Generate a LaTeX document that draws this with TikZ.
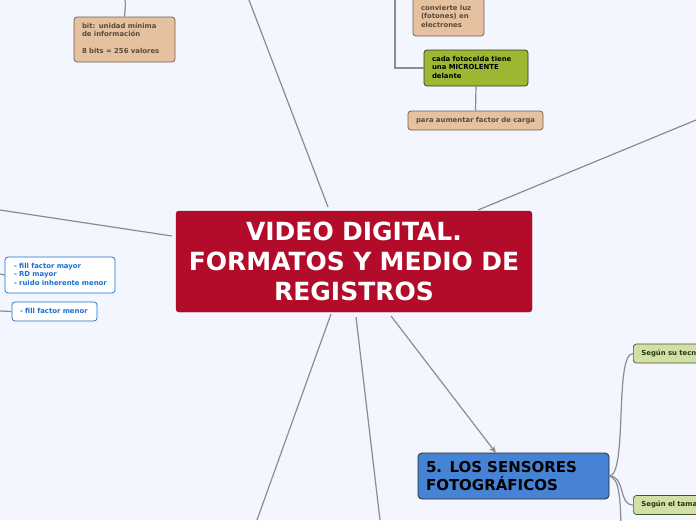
\documentclass[tikz,border=0pt]{standalone}
\usepackage{fontspec}
\setmainfont{DejaVu Sans}
\usetikzlibrary{arrows.meta}
\definecolor{bgc}{HTML}{F3F6FF}
\definecolor{redc}{HTML}{B30C2B}
\definecolor{tanc}{HTML}{E5C19F}
\definecolor{tanb}{HTML}{6E5E50}
\definecolor{tant}{HTML}{5A4A3C}
\definecolor{greenc}{HTML}{9EB733}
\definecolor{lgreenc}{HTML}{D4DFA8}
\definecolor{lgreenb}{HTML}{3E5A22}
\definecolor{lgreent}{HTML}{1F3A10}
\definecolor{bluec}{HTML}{4683D5}
\definecolor{blueb}{HTML}{1A6FD0}
\definecolor{linec}{HTML}{8A8C94}
\newcommand{\lns}[1]{\begin{tabular}{@{}l@{}}#1\end{tabular}}
\begin{document}
\begin{tikzpicture}[x=1pt,y=-1pt,
  conn/.style={draw=linec,line width=1.2pt},
  small/.style={font=\bfseries\fontsize{6.9}{8.5}\selectfont,align=left,rounded corners=3pt,line width=0.7pt,inner xsep=8pt,inner ysep=0pt},
  tanbox/.style={small,fill=tanc,draw=tanb,text=tant},
  greenbox/.style={small,fill=greenc,draw=black!80,text=black},
  lgreenbox/.style={small,fill=lgreenc,draw=lgreenb,text=lgreent},
  whitebox/.style={small,fill=white,draw=blueb,text=blueb},
  mainbox/.style={fill=redc,draw=redc!80!black,rounded corners=3pt,text=white,font=\bfseries\fontsize{25}{30}\selectfont,align=center,inner sep=0pt},
  sensorbox/.style={fill=bluec,draw=black!85,line width=0.8pt,rounded corners=4pt,text=black,font=\bfseries\fontsize{15}{18}\selectfont,align=left,inner xsep=8pt,inner ysep=0pt}
]
\useasboundingbox (0,0) rectangle (696,520);
\fill[bgc] (0,0) rectangle (696,520);
\clip (0,0) rectangle (696,520);

% nodes
\node[mainbox,minimum width=356pt,minimum height=101pt,text width=350pt] (main) at (354,261.5) {VIDEO DIGITAL.\\FORMATOS Y MEDIO DE\\REGISTROS};
\node[tanbox,minimum width=101pt,minimum height=45pt,text width=85pt] (bit) at (124.5,39.5) {\lns{bit: unidad mínima\\de información\\ \\8 bits = 256 valores}};
\node[tanbox,minimum width=71pt,minimum height=38pt,text width=55pt] (luz) at (448.5,17) {\lns{convierte luz\\(fotones) en\\electrones}};
\node[greenbox,minimum width=104pt,minimum height=36pt,text width=88pt] (micro) at (476,68) {\lns{cada fotocelda tiene\\una MICROLENTE\\delante}};
\node[tanbox,minimum width=135pt,minimum height=19pt,text width=119pt] (carga) at (475.5,120.5) {\lns{para aumentar factor de carga}};
\node[whitebox,minimum width=110pt,minimum height=36pt,text width=92pt,inner xsep=9pt] (mayor) at (60,275) {\lns{- fill factor mayor\\- RD mayor\\- ruido inherente menor}};
\node[whitebox,minimum width=85pt,minimum height=19pt,text width=69pt] (menor) at (54.5,311.5) {\lns{- fill factor menor}};
\node[sensorbox,minimum width=191pt,minimum height=46pt,text width=175pt] (sensor) at (513.5,476) {5. LOS SENSORES\\FOTOGRÁFICOS};
\node[lgreenbox,minimum width=100pt,minimum height=19pt,text width=84pt,anchor=west] (tecn) at (633,353.5) {\lns{Según su tecn}};
\node[lgreenbox,minimum width=100pt,minimum height=19pt,text width=84pt,anchor=west] (tama) at (633,505) {\lns{Según el tama}};

% coordinates
\coordinate (m1) at (328,207); \coordinate (e1) at (249,0);
\coordinate (m2) at (478,210); \coordinate (e2) at (696,120);
\coordinate (m3) at (172,236); \coordinate (e3) at (0,210);
\coordinate (m4) at (331,314); \coordinate (e4) at (257,520);
\coordinate (m5) at (356,317); \coordinate (e5) at (380,520);
\coordinate (m6) at (391,316); \coordinate (s6) at (496,453);
\coordinate (b0) at (125,0);
\coordinate (t0) at (395,0); \coordinate (t1) at (395,68);
\coordinate (l1) at (0,274); \coordinate (l2) at (0,311);
\coordinate (sr) at (609,476); \coordinate (d0) at (621,540);

% connectors
\draw[conn] (m1) -- (e1);
\draw[conn] (m2) -- (e2);
\draw[conn] (m3) -- (e3);
\draw[conn] (m4) -- (e4);
\draw[conn] (m5) -- (e5);
\draw[conn,-{Stealth[length=7pt,width=6pt]}] (m6) -- (s6);
\draw[conn] (bit.north) .. controls (125,8) and (126,6) .. (b0);
\draw[conn] (t0) -- (t1) -- (micro.west);
\draw[conn] (micro.south) -- (carga.north);
\draw[conn] (l1) -- (mayor.west);
\draw[conn] (l2) -- (menor.west);
\draw[conn] (sr) .. controls (628,476) and (614,353.5) .. (tecn.west);
\draw[conn] (sr) .. controls (626,476) and (618,505) .. (tama.west);
\draw[conn] (sr) .. controls (618,478) and (621,490) .. (d0);
\end{tikzpicture}
\end{document}
